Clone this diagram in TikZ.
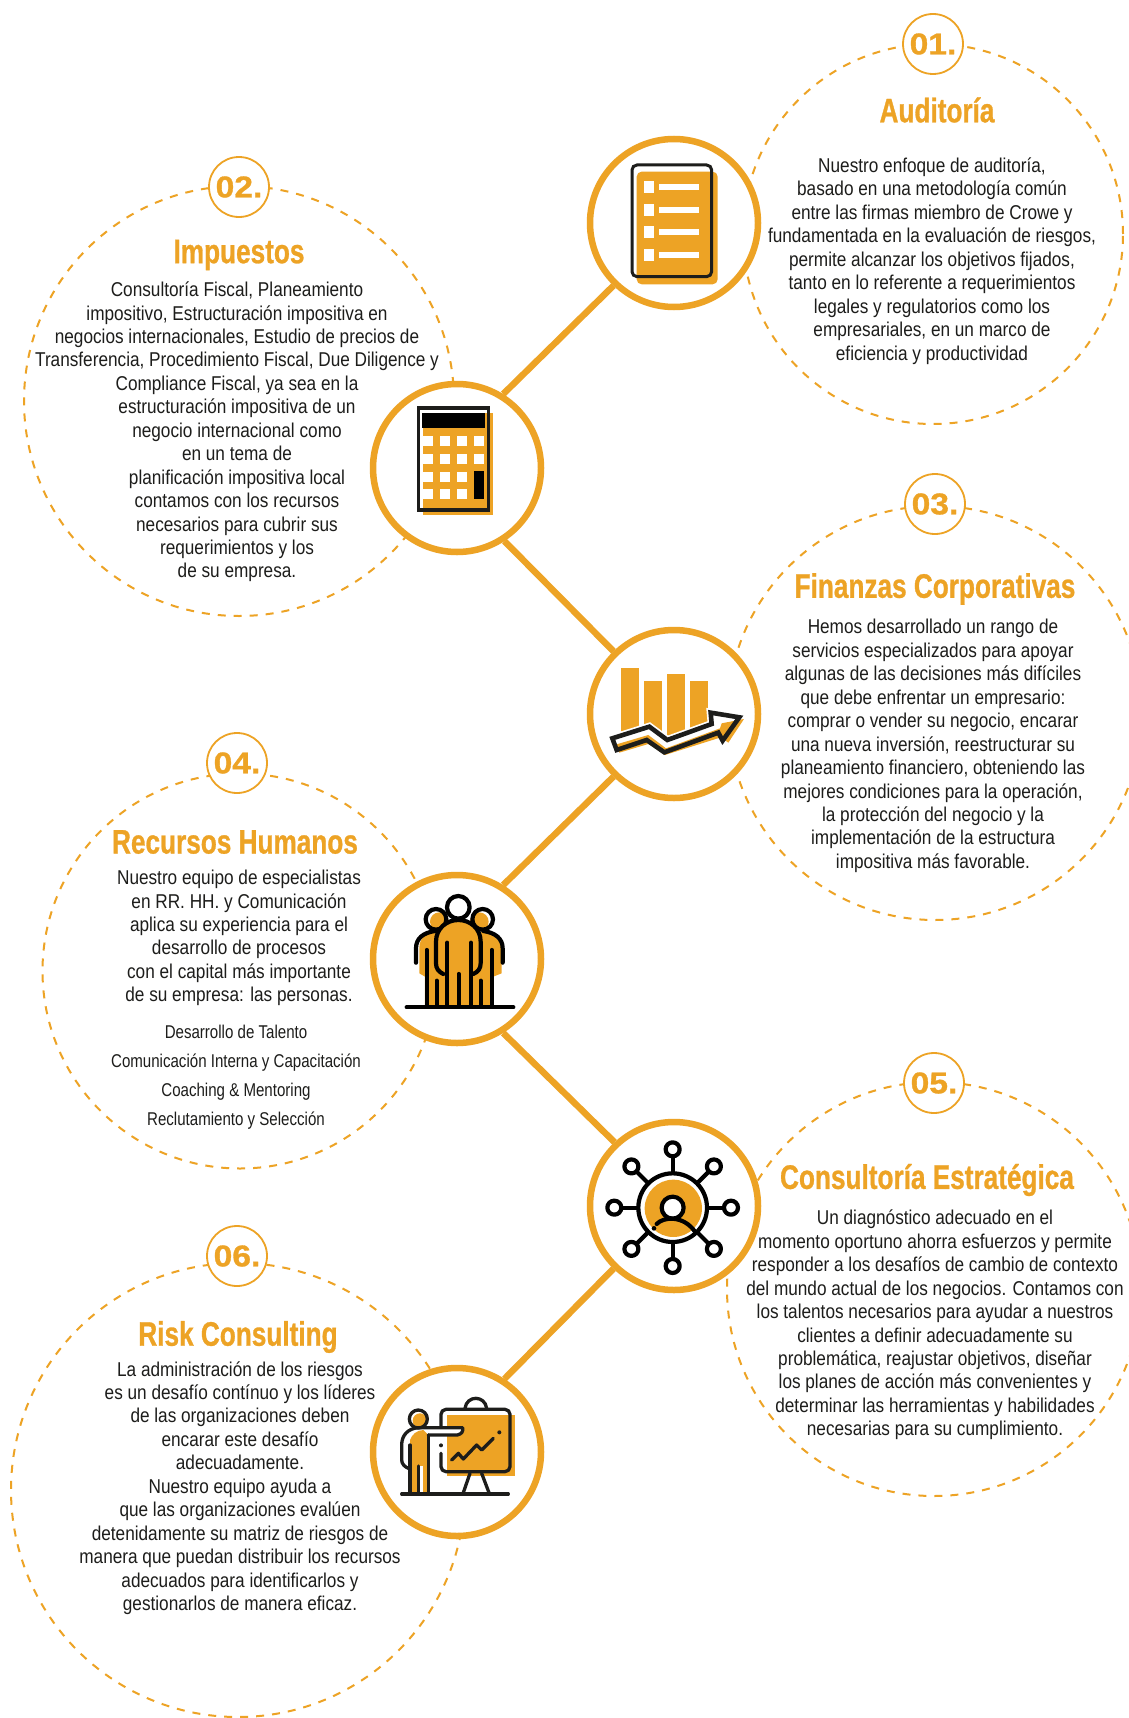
\documentclass[tikz,border=0pt]{standalone}
\usepackage{fontspec}
\setmainfont[BoldFeatures={FakeBold=1,FakeStretch=1.12}]{Liberation Sans}
\newfontfamily\bodyf[FakeStretch=0.86]{Liberation Sans}
\newfontfamily\listf[FakeStretch=0.815]{Liberation Sans}
\newfontfamily\titlef[FakeStretch=0.77,BoldFeatures={FakeStretch=0.77,FakeBold=0.8}]{Liberation Sans}
\definecolor{ko}{HTML}{EDA325}
\definecolor{ink}{HTML}{1D1D1B}
\tikzset{
  dashring/.style={circle,draw=ko,line width=2pt,dash pattern=on 8pt off 8pt,inner sep=0pt,minimum size=#1},
  iconring/.style={circle,draw=ko,fill=white,line width=6.5pt,inner sep=0pt,minimum size=168pt},
  numring/.style={circle,draw=ko,fill=white,line width=1.8pt,inner sep=0pt,minimum size=60pt,text=ko,font=\fontsize{30}{30}\selectfont\bfseries},
  link/.style={draw=ko,line width=6.5pt},
  bodytext/.style={align=center,inner sep=0pt,text=ink,font=\bodyf\fontsize{20}{23.45}\selectfont},
  listtext/.style={align=center,inner sep=0pt,text=ink,font=\listf\fontsize{18.5}{29}\selectfont},
  titletext/.style={inner sep=0pt,text=ko,font=\titlef\fontsize{34}{36}\selectfont\bfseries},
  zoomed/.style 2 args={shift={(#1,#2)},x=0.3333pt,y=-0.3333pt},
  blk/.style={draw=ink,line width=3.3pt,line cap=round,line join=round},
  blkh/.style={draw=black,line width=4.2pt,line cap=round,line join=round},
}
\begin{document}
\begin{tikzpicture}[x=1pt,y=-1pt]
\clip (0,0) rectangle (1129,1718);
\fill[white] (0,0) rectangle (1129,1718);
% dashed circles
\node[dashring=380pt] (d1) at (933,234) {};
\node[dashring=430pt] (d2) at (239,401) {};
\node[dashring=414pt] (d3) at (935,713) {};
\node[dashring=395pt] (d4) at (240,971) {};
\node[dashring=414pt] (d5) at (934,1289) {};
\node[dashring=454pt] (d6) at (238,1490) {};
% icon rings
\node[iconring] (c1) at (674,223) {};
\node[iconring] (c2) at (457,468) {};
\node[iconring] (c3) at (674,714) {};
\node[iconring] (c4) at (457,959) {};
\node[iconring] (c5) at (674,1206) {};
\node[iconring] (c6) at (457,1452) {};
% connectors
\draw[link] (c1.226) -- (c2.58);
\draw[link] (c2.-57) -- (c3.134);
\draw[link] (c3.226) -- (c4.58);
\draw[link] (c4.-58) -- (c5.133);
\draw[link] (c5.226) -- (c6.57);
% number rings
\node[numring] (n1) at (933,44) {01.};
\node[numring] (n2) at (239,187) {02.};
\node[numring] (n3) at (935,504) {03.};
\node[numring] (n4) at (237,763) {04.};
\node[numring] (n5) at (934,1083) {05.};
\node[numring] (n6) at (237,1256) {06.};
% titles
\node[titletext] (h1) at (937,110) {Auditoría};
\node[titletext] (h2) at (239,255) {Impuestos};
\node[titletext] (h3) at (935,589) {Finanzas Corporativas};
\node[titletext] (h4) at (235,842) {Recursos Humanos};
\node[titletext] (h5) at (927,1180) {Consultoría Estratégica};
\node[titletext] (h6) at (238,1337) {Risk Consulting};
% body
\node[bodytext] (t1) at (932,261) {Nuestro enfoque de auditoría,\\basado en una metodología común\\entre las firmas miembro de Crowe y\\fundamentada en la evaluación de riesgos,\\permite alcanzar los objetivos fijados,\\tanto en lo referente a requerimientos\\legales y regulatorios como los\\empresariales, en un marco de\\eficiencia y productividad};
\node[bodytext] (t2) at (237,432) {Consultoría Fiscal, Planeamiento\\impositivo, Estructuración impositiva en\\negocios internacionales, Estudio de precios de\\Transferencia, Procedimiento Fiscal, Due Diligence y\\Compliance Fiscal, ya sea en la\\estructuración impositiva de un\\negocio internacional como\\en un tema de\\planificación impositiva local\\contamos con los recursos\\necesarios para cubrir sus\\requerimientos y los\\de su empresa.};
\node[bodytext] (t3) at (933,746) {Hemos desarrollado un rango de\\servicios especializados para apoyar\\algunas de las decisiones más difíciles\\que debe enfrentar un empresario:\\comprar o vender su negocio, encarar\\una nueva inversión, reestructurar su\\planeamiento financiero, obteniendo las\\mejores condiciones para la operación,\\la protección del negocio y la\\implementación de la estructura\\impositiva más favorable.};
\node[bodytext] (t4) at (239,938) {Nuestro equipo de especialistas\\en RR. HH. y Comunicación\\aplica su experiencia para el\\desarrollo de procesos\\con el capital más importante\\de su empresa: las personas.};
\node[listtext] (t4b) at (236,1077) {Desarrollo de Talento\\Comunicación Interna y Capacitación\\Coaching \& Mentoring\\Reclutamiento y Selección};
\node[bodytext] (t5) at (935,1325) {Un diagnóstico adecuado en el\\momento oportuno ahorra esfuerzos y permite\\responder a los desafíos de cambio de contexto\\del mundo actual de los negocios. Contamos con\\los talentos necesarios para ayudar a nuestros\\clientes a definir adecuadamente su\\problemática, reajustar objetivos, diseñar\\los planes de acción más convenientes y\\determinar las herramientas y habilidades\\necesarias para su cumplimiento.};
\node[bodytext] (t6) at (240,1488) {La administración de los riesgos\\es un desafío contínuo y los líderes\\de las organizaciones deben\\encarar este desafío\\adecuadamente.\\Nuestro equipo ayuda a\\que las organizaciones evalúen\\detenidamente su matriz de riesgos de\\manera que puedan distribuir los recursos\\adecuados para identificarlos y\\gestionarlos de manera eficaz.};
% icon 1: document
\begin{scope}[zoomed={570}{120}]
\fill[ko,rounded corners=5pt] (200,155) rectangle (443,493);
\draw[ink,line width=3pt,rounded corners=5pt] (186,135) rectangle (425,470);
\foreach \a/\b in {183/192,252/261,318/327,387/396}{
  \fill[white] (222,\a) rectangle +(30,36);
  \fill[white] (267,\b) rectangle +(120,18);
}
\end{scope}
% icon 2: calculator
\begin{scope}[zoomed={360}{370}]
\fill[ko] (189,128) rectangle (399,435);
\fill[white] (181,120) rectangle (189,415);
\draw[ink,line width=3.4pt] (175,114) rectangle (385,420);
\fill[black] (186,128) rectangle (375,174);
\foreach \yy in {198,252,306,357}{
  \foreach \xx in {189,240,291,342}{
    \fill[white] (\xx,\yy) rectangle +(30,30);
  }
}
\fill[black] (342,303) rectangle (372,387);
\end{scope}
% icon 3: chart
\begin{scope}[zoomed={580}{620}]
\fill[ko] (123,143) rectangle (178,340);
\fill[ko] (192,183) rectangle (247,340);
\fill[ko] (260,162) rectangle (315,350);
\fill[ko] (329,183) rectangle (384,325);
\path[draw=white,fill=white,line width=8pt,line join=miter] (97,355) -- (208,320) -- (262,360) -- (395,312) -- (392,278) -- (478,292) -- (428,362) -- (415,338) -- (253,397) -- (200,360) -- (110,390) -- cycle;
\fill[ko] (110,373) -- (205,345) -- (258,385) -- (420,325) -- (425,310) -- (492,297) -- (445,368) -- (423,352) -- (255,405) -- (205,372) -- (118,398) -- cycle;
\draw[ink,line width=4.6pt,line join=miter] (97,355) -- (208,320) -- (262,360) -- (395,312) -- (392,278) -- (478,292) -- (428,362) -- (415,338) -- (253,397) -- (200,360) -- (110,390) -- cycle;
\end{scope}
% icon 4: people
\begin{scope}[zoomed={360}{870}]
\fill[ko] (178,235) .. controls (178,200) and (200,190) .. (235,185) -- (360,185) .. controls (400,190) and (425,210) .. (425,240) -- (425,310) -- (395,322) -- (395,405) -- (195,405) -- (195,320) -- (178,310) -- cycle;
\fill[ko] (238,155) circle[radius=28];
\fill[ko] (358,155) circle[radius=28];
\draw[blkh] (228,148) circle[radius=31];
\draw[blkh] (368,148) circle[radius=31];
\fill[ko] (228,280) -- (228,215) .. controls (228,175) and (260,150) .. (295,150) .. controls (330,150) and (362,175) .. (362,215) -- (362,280) -- (340,312) -- (340,405) -- (250,405) -- (250,312) -- cycle;
\draw[blkh,fill=white] (295,112) circle[radius=34];
\draw[blkh] (250,312) .. controls (235,305) and (228,295) .. (228,280) -- (228,215) .. controls (228,175) and (260,150) .. (295,150) .. controls (330,150) and (362,175) .. (362,215) -- (362,280) .. controls (362,295) and (355,305) .. (340,312);
\draw[blkh] (168,278) -- (168,235) .. controls (168,205) and (190,188) .. (225,183);
\draw[blkh] (428,278) -- (428,235) .. controls (428,205) and (405,188) .. (370,183);
\foreach \xx/\yy in {262/218,333/218,296/312,200/240,395/240,230/332,362/332}{
  \draw[blkh] (\xx,\yy) -- (\xx,405);
}
\draw[blkh] (140,412) -- (460,412);
\end{scope}
% icon 5: network
\begin{scope}[zoomed={580}{1115}]
\fill[ko] (280,280) circle[radius=86];
\foreach \ang in {0,45,...,315}{
  \draw[blkh,line cap=butt] (278,278) ++(\ang:108) -- ++(\ang:46);
  \draw[blkh,fill=white] (278,278) ++(\ang:175) circle[radius=21];
}
\draw[blkh] (278,278) circle[radius=103];
\draw[blkh,fill=white] (278,278) circle[radius=33];
\draw[blkh] (230,327) .. controls (250,305) and (310,300) .. (345,350);
\fill[black] (222,340) circle[radius=7];
\end{scope}
% icon 6: presentation
\begin{scope}[zoomed={370}{1360}]
\fill[ko] (232,165) rectangle (435,347);
\draw[blk] (285,145) .. controls (290,105) and (345,105) .. (350,145);
\draw[blk,rounded corners=5pt] (213,200) -- (213,148) -- (420,148) -- (420,335) -- (213,335) -- (213,280);
\fill[ink] (213,256) circle[radius=6];
\fill[ink] (388,217) circle[radius=6];
\draw[blk] (245,300) -- (265,280) -- (280,297) -- (320,255) -- (335,270) -- (370,235);
\draw[blk] (300,340) -- (280,398);
\draw[blk] (335,340) -- (357,398);
\fill[ko] (120,240) .. controls (125,225) and (140,210) .. (160,210) -- (175,225) -- (175,400) -- (120,400) -- cycle;
\fill[white] (140,318) rectangle (160,400);
\fill[ko] (150,182) circle[radius=22];
\draw[blk] (145,177) circle[radius=27];
\fill[white] (175,225) -- (262,225) .. controls (275,222) and (280,215) .. (278,203) -- (175,203) -- cycle;
\draw[blk] (175,225) -- (262,225) .. controls (275,222) and (280,215) .. (278,203) -- (145,203) .. controls (115,205) and (95,225) .. (95,255) -- (95,300) .. controls (95,312) and (105,322) .. (118,326);
\draw[blk] (175,225) -- (175,400);
\draw[blk] (120,255) -- (120,400);
\draw[blk] (146,318) -- (146,400);
\draw[blk] (95,402) -- (415,402);
\end{scope}
\end{tikzpicture}
\end{document}
